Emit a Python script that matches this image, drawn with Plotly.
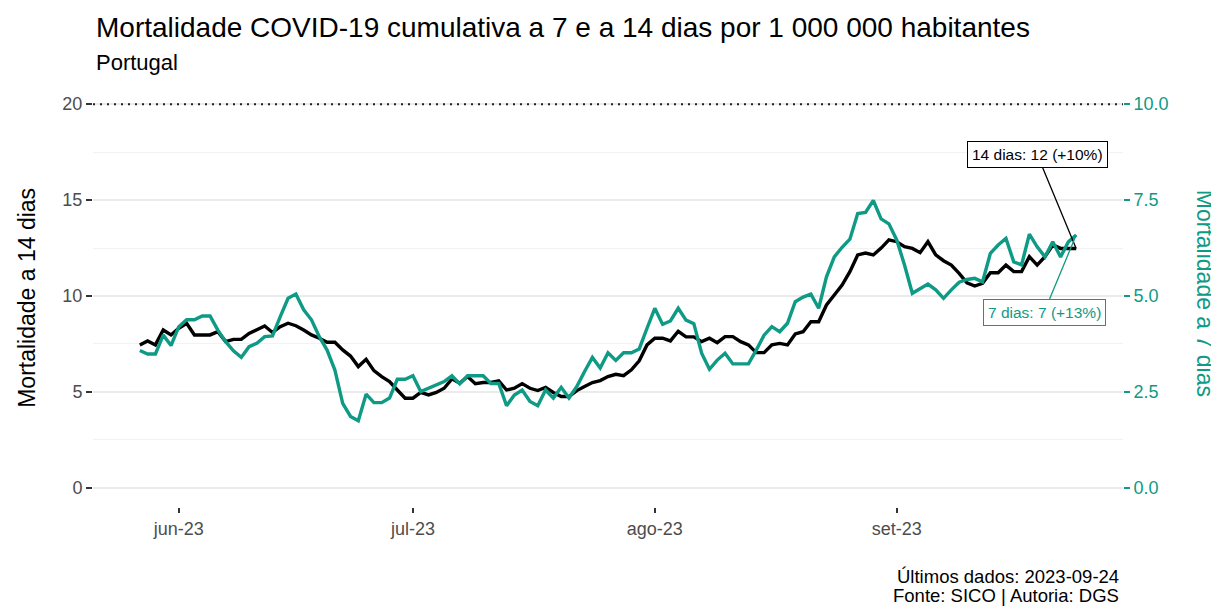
import pandas as pd
import plotly.graph_objects as go

start_date = "2023-05-27"
mort_14d = [7.45, 7.66, 7.45, 8.23, 7.97, 8.32, 8.58, 7.97, 7.97, 7.97,
            8.14, 7.62, 7.74, 7.74, 8.05, 8.26, 8.44, 8.10, 8.40, 8.58,
            8.45, 8.23, 7.97, 7.80, 7.59, 7.59, 7.19, 6.87, 6.32, 6.70,
            6.11, 5.80, 5.54, 5.10, 4.67, 4.67, 4.97, 4.84, 4.97, 5.19,
            5.68, 5.45, 5.80, 5.43, 5.49, 5.49, 5.57, 5.10, 5.19, 5.43,
            5.19, 5.07, 5.24, 4.97, 4.76, 4.76, 5.07, 5.28, 5.49, 5.59,
            5.80, 5.92, 5.85, 6.15, 6.62, 7.45, 7.80, 7.80, 7.66, 8.16,
            7.87, 7.87, 7.62, 7.80, 7.57, 7.88, 7.88, 7.62, 7.45, 7.05,
            7.05, 7.45, 7.53, 7.45, 8.02, 8.14, 8.66, 8.66, 9.53, 10.05,
            10.57, 11.27, 12.14, 12.24, 12.14, 12.50, 12.93, 12.83, 12.57, 12.48,
            12.26, 12.83, 12.14, 11.84, 11.61, 11.18, 10.69, 10.52, 10.66, 11.21,
            11.21, 11.61, 11.27, 11.27, 12.05, 11.61, 12.05, 12.66, 12.48, 12.48,
            12.48]
mort_7d = [3.58, 3.49, 3.49, 3.98, 3.71, 4.20, 4.38, 4.38, 4.48, 4.48,
           4.11, 3.81, 3.57, 3.40, 3.68, 3.77, 3.94, 3.96, 4.46, 4.94,
           5.05, 4.64, 4.38, 3.94, 3.59, 3.07, 2.20, 1.86, 1.75, 2.44,
           2.22, 2.22, 2.34, 2.83, 2.83, 2.92, 2.51, 2.60, 2.68, 2.77,
           2.92, 2.71, 2.92, 2.92, 2.92, 2.72, 2.72, 2.14, 2.42, 2.55,
           2.25, 2.14, 2.55, 2.34, 2.62, 2.34, 2.64, 3.03, 3.40, 3.12,
           3.52, 3.32, 3.52, 3.52, 3.62, 4.16, 4.68, 4.26, 4.35, 4.68,
           4.37, 4.28, 3.51, 3.09, 3.33, 3.51, 3.23, 3.23, 3.23, 3.59,
           3.98, 4.20, 4.07, 4.29, 4.85, 4.97, 5.05, 4.68, 5.50, 6.02,
           6.27, 6.48, 7.15, 7.18, 7.49, 7.01, 6.88, 6.46, 5.81, 5.07,
           5.20, 5.31, 5.16, 4.94, 5.16, 5.36, 5.43, 5.46, 5.37, 6.11,
           6.33, 6.50, 5.89, 5.81, 6.61, 6.28, 6.02, 6.41, 6.02, 6.41,
           6.59]
dates = pd.date_range(start_date, periods=len(mort_14d), freq="D")

x_tick_vals = ["2023-06-01", "2023-07-01", "2023-08-01", "2023-09-01"]
x_tick_text = ["jun-23", "jul-23", "ago-23", "set-23"]
y14_ticks = [0, 5, 10, 15, 20]
y7_ticks = [0, 2.5, 5, 7.5, 10]
y7_tick_text = ["0.0", "2.5", "5.0", "7.5", "10.0"]

label_14 = "14 dias: 12 (+10%)"
label_7 = "7 dias: 7 (+13%)"
title = "Mortalidade COVID-19 cumulativa a 7 e a 14 dias por 1 000 000 habitantes"
subtitle = "Portugal"
caption_1 = "Últimos dados: 2023-09-24"
caption_2 = "Fonte: SICO | Autoria: DGS"

TEAL = "#0E9A84"
FONT = "Liberation Sans, Arial, sans-serif"
W, H = 1219, 609
OFF = 8  # default page body margin
ML, MT = 93 - OFF, 85 - OFF
PW, PH = 1030, 422.4
MR = W - ML - PW
MB = H - MT - PH


def px(x):
    return (x - OFF - ML) / PW


def py(y):
    return (H - MB - (y - OFF)) / PH


fig = go.Figure()
fig.add_trace(go.Scatter(x=dates, y=mort_14d, mode="lines",
                         line=dict(color="black", width=3.4),
                         name="14 dias", yaxis="y"))
fig.add_trace(go.Scatter(x=dates, y=mort_7d, mode="lines",
                         line=dict(color=TEAL, width=3.4),
                         name="7 dias", yaxis="y2"))

fig.add_shape(type="line", xref="paper", yref="y", x0=0.0, x1=1.0,
              y0=20, y1=20, line=dict(color="#222222", width=2, dash="2px,5px"))

annotations = [
    dict(text=title, xref="paper", yref="paper", x=px(94), y=py(27),
         xanchor="left", yanchor="middle", showarrow=False,
         font=dict(size=28, color="black", family=FONT)),
    dict(text=subtitle, xref="paper", yref="paper", x=px(94), y=py(62),
         xanchor="left", yanchor="middle", showarrow=False,
         font=dict(size=22, color="black", family=FONT)),
    dict(text=caption_1, xref="paper", yref="paper", x=px(1121), y=py(577),
         xanchor="right", yanchor="middle", align="right", showarrow=False,
         font=dict(size=18.5, color="black", family=FONT)),
    dict(text=caption_2, xref="paper", yref="paper", x=px(1121), y=py(596),
         xanchor="right", yanchor="middle", align="right", showarrow=False,
         font=dict(size=18.5, color="black", family=FONT)),
    dict(text="Mortalidade a 14 dias", xref="paper", yref="paper",
         x=px(27), y=py(298), textangle=-90, showarrow=False,
         xanchor="center", yanchor="middle",
         font=dict(size=23, color="black", family=FONT)),
    dict(text="Mortalidade a 7 dias", xref="paper", yref="paper",
         x=px(1205), y=py(293), textangle=90, showarrow=False,
         xanchor="center", yanchor="middle",
         font=dict(size=23, color=TEAL, family=FONT)),
    dict(text=label_14, x=dates[-1], y=mort_14d[-1], xref="x", yref="y",
         showarrow=True, arrowhead=0, arrowwidth=1.3, arrowcolor="black",
         axref="pixel", ayref="pixel", ax=-39, ay=-94,
         bgcolor="white", bordercolor="black", borderwidth=1, borderpad=4,
         font=dict(size=15.5, color="black", family=FONT)),
    dict(text=label_7, x=dates[-1], y=mort_7d[-1], xref="x", yref="y2",
         showarrow=True, arrowhead=0, arrowwidth=1.3, arrowcolor=TEAL,
         axref="pixel", ayref="pixel", ax=-32, ay=77,
         bgcolor="white", bordercolor=TEAL, borderwidth=1, borderpad=4,
         font=dict(size=15.5, color=TEAL, family=FONT)),
]

fig.update_layout(
    width=W, height=H,
    margin=dict(l=ML, r=MR, t=MT, b=MB),
    paper_bgcolor="white", plot_bgcolor="white",
    showlegend=False,
    font=dict(family=FONT),
    annotations=annotations,
    xaxis=dict(
        range=["2023-05-21", "2023-09-30"],
        tickvals=x_tick_vals, ticktext=x_tick_text,
        showgrid=False, zeroline=False, showline=False,
        ticks="outside", ticklen=5, tickwidth=2, tickcolor="#333333",
        tickfont=dict(size=18, color="#4D4D4D", family=FONT),
    ),
    yaxis=dict(
        range=[-1, 21], tickvals=y14_ticks,
        showgrid=True, gridcolor="#EBEBEB", gridwidth=1.8,
        zeroline=False, showline=False,
        ticks="outside", ticklen=6, tickwidth=2, tickcolor="#333333",
        tickfont=dict(size=18, color="#4D4D4D", family=FONT),
        minor=dict(dtick=2.5, tick0=0, showgrid=True, gridcolor="#F2F2F2",
                   gridwidth=1, ticks=""),
    ),
    yaxis2=dict(
        range=[-0.5, 10.5], tickvals=y7_ticks, ticktext=y7_tick_text,
        overlaying="y", side="right",
        showgrid=False, zeroline=False, showline=False,
        ticks="outside", ticklen=6, tickwidth=2, tickcolor=TEAL,
        tickfont=dict(size=18, color=TEAL, family=FONT),
    ),
)

fig.write_html("out.html")
